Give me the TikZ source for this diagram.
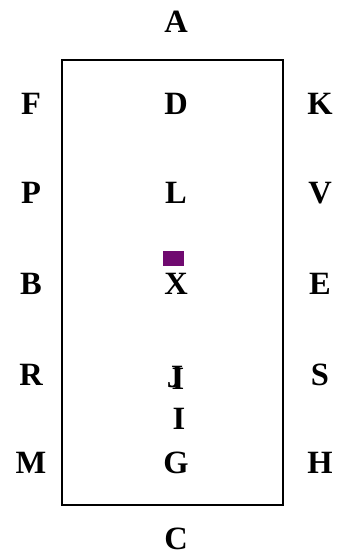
\documentclass[tikz,border=0pt]{standalone}
\usepackage{fontspec}
\setmainfont{Liberation Serif}
\usetikzlibrary{positioning}
\definecolor{boxpurple}{RGB}{112,10,112}

\begin{document}
\begin{tikzpicture}[x=1pt, y=-1pt,
    lbl/.style={inner sep=0pt, font=\fontsize{32.5}{32.5}\bfseries\selectfont},
    frame/.style={draw, line width=2pt},
    marker/.style={fill=boxpurple, inner sep=0pt, minimum width=21pt, minimum height=15pt}
  ]
    \useasboundingbox (0,0) rectangle (346,557);
    \node[frame, minimum width=221pt, minimum height=445pt, inner sep=0pt] (box) at (172.5,282.5) {};

    \node[lbl] (A) at (176,22) {A};
    \node[lbl] (C) at (176,539) {C};

    \node[lbl] (F) at (31,104) {F};
    \node[lbl] (D) at (176,104) {D};
    \node[lbl] (K) at (320,104) {K};

    \node[lbl] (P) at (31,193) {P};
    \node[lbl] (L) at (176,193) {L};
    \node[lbl] (V) at (320,193) {V};

    \node[lbl] (B) at (31,284) {B};
    \node[lbl] (X) at (176,284) {X};
    \node[lbl] (E) at (320,284) {E};
    \node[marker] (sq) at (173.5,258.5) {};

    \node[lbl] (R) at (31,375) {R};
    \node[lbl] (J) at (175,377) {J};
    \node[lbl] (Ia) at (178,379) {I};
    \node[lbl] (S) at (320,375) {S};

    \node[lbl] (I) at (179,419) {I};

    \node[lbl] (M) at (31,463) {M};
    \node[lbl] (G) at (176,463) {G};
    \node[lbl] (H) at (320,463) {H};
\end{tikzpicture}
\end{document}
